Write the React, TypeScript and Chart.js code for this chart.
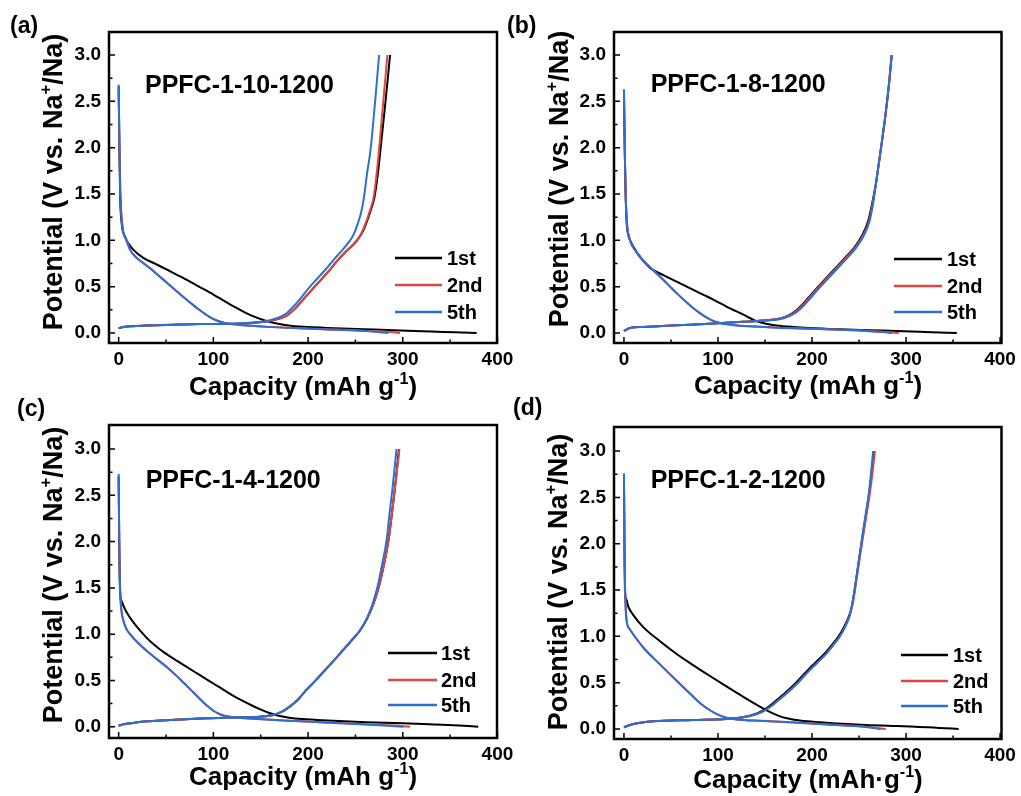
import React, { useEffect, useRef } from "react";
import { Chart, registerables } from "chart.js";

Chart.register(...registerables);

// ---------- tick labels / categories ----------
const xTicks = [0, 100, 200, 300, 400];
const yTicks = [0, 0.5, 1.0, 1.5, 2.0, 2.5, 3.0];
const cycleLabels = ["1st", "2nd", "5th"];
const cycleColors = ["#000000", "#e04545", "#2b6fd3"];

// ---------- (a) PPFC-1-10-1200 : [capacity, potential] ----------
const a1stDischarge = [[0,2.66],[0.8,2.0],[1.5,1.5],[3,1.2],[6.7,1.04],[10,0.97],[15.4,0.9],[26,0.81],[38,0.75],[50.7,0.685],[68,0.595],[85.8,0.495],[100,0.415],[121,0.29],[138.6,0.195],[156,0.13],[174,0.09],[191,0.07],[220,0.055],[244,0.045],[270,0.037],[297,0.028],[330,0.016],[355,0.008],[378,0]];
const a2ndDischarge = [[0,2.64],[0.8,2.0],[1.8,1.5],[4,1.15],[8.4,1.0],[12,0.9],[17,0.83],[24,0.77],[33,0.7],[42,0.62],[50.7,0.545],[60,0.46],[68,0.39],[77,0.315],[85.8,0.245],[95,0.18],[103.5,0.135],[112,0.108],[121,0.095],[140,0.078],[156,0.068],[190,0.052],[220,0.04],[244,0.032],[270,0.02],[290,0.008],[297,0]];
const a5thDischarge = [[0,2.68],[0.8,2.0],[1.8,1.5],[4,1.15],[8.4,1.0],[12,0.9],[17,0.83],[24,0.77],[33,0.7],[42,0.62],[50.7,0.545],[60,0.46],[68,0.39],[77,0.315],[85.8,0.245],[95,0.18],[103.5,0.135],[112,0.108],[121,0.094],[140,0.077],[156,0.066],[190,0.05],[220,0.038],[244,0.03],[265,0.018],[285,0]];
const a1stCharge = [[0,0.05],[4,0.063],[15,0.074],[30,0.08],[50.7,0.087],[85.8,0.096],[121,0.1],[140,0.108],[156,0.125],[168,0.15],[178,0.19],[186,0.26],[193,0.34],[200,0.42],[207,0.5],[215,0.59],[222,0.67],[230,0.77],[240,0.88],[251,0.99],[257,1.08],[262,1.2],[266,1.32],[270,1.46],[273.5,1.7],[276.5,1.98],[282,2.52],[286.6,3.0]];
const a2ndCharge = [[0,0.05],[4,0.063],[15,0.074],[30,0.08],[50.7,0.087],[85.8,0.096],[121,0.1],[140,0.108],[156,0.125],[168,0.15],[178,0.19],[186,0.26],[193,0.34],[200,0.42],[207,0.5],[215,0.59],[222,0.67],[230,0.77],[240,0.88],[250,0.98],[256,1.07],[261,1.19],[265,1.31],[269,1.45],[272,1.68],[275,1.98],[279.6,2.52],[283.8,3.0]];
const a5thCharge = [[0,0.05],[4,0.065],[15,0.075],[30,0.082],[50.7,0.088],[85.8,0.097],[121,0.1],[138.6,0.11],[156,0.13],[166.8,0.16],[177,0.21],[184,0.28],[191,0.36],[202,0.5],[209,0.58],[218,0.68],[227,0.79],[235,0.88],[243,0.98],[248,1.06],[252.5,1.18],[256,1.3],[259,1.46],[262,1.7],[266,1.98],[271,2.52],[275,3.0]];

// ---------- (b) PPFC-1-8-1200 ----------
const b1stDischarge = [[0,2.6],[0.8,2.0],[1.5,1.6],[2.8,1.2],[5,1.05],[10,0.93],[20.5,0.78],[28,0.7],[43,0.62],[56,0.555],[70,0.485],[84,0.415],[97,0.35],[109,0.285],[126.5,0.2],[140.6,0.13],[150,0.102],[162,0.082],[180,0.065],[197,0.054],[230,0.04],[261,0.03],[290,0.022],[320,0.012],[354,0]];
const b2ndDischarge = [[0,2.6],[0.8,2.0],[1.8,1.5],[3.5,1.15],[6.4,1.0],[13.4,0.87],[20,0.785],[27.6,0.71],[35,0.64],[41.7,0.575],[50,0.49],[56,0.43],[65,0.345],[73.5,0.27],[80,0.22],[87.6,0.168],[95,0.13],[102,0.108],[110,0.093],[119,0.083],[140,0.07],[162,0.058],[200,0.046],[230,0.035],[261,0.022],[280,0.01],[292.5,0]];
const b5thDischarge = [[0,2.63],[0.8,2.0],[1.8,1.5],[3.5,1.15],[6.4,1.0],[13.4,0.87],[20,0.785],[27.6,0.71],[35,0.64],[41.7,0.575],[50,0.49],[56,0.43],[65,0.345],[73.5,0.27],[80,0.22],[87.6,0.168],[95,0.13],[102,0.108],[110,0.093],[119,0.082],[140,0.069],[162,0.057],[200,0.045],[230,0.034],[261,0.02],[275,0.01],[285,0]];
const b1stCharge = [[0,0.02],[3,0.04],[6.4,0.054],[20.5,0.065],[56,0.083],[91,0.1],[126.5,0.12],[151,0.137],[169,0.165],[178.5,0.21],[185,0.26],[189,0.3],[196,0.38],[203,0.46],[213,0.57],[224,0.69],[235,0.81],[245.6,0.93],[253,1.05],[259.5,1.2],[264,1.4],[267.8,1.61],[273,1.97],[277.8,2.33],[282,2.7],[284.8,3.0]];
const b2ndCharge = [[0,0.02],[3,0.04],[6.4,0.054],[20.5,0.065],[56,0.083],[91,0.1],[126.5,0.12],[151,0.137],[169,0.165],[179.5,0.21],[186,0.26],[190,0.3],[197,0.38],[204,0.46],[214,0.57],[225,0.69],[236,0.81],[246.6,0.93],[254,1.05],[260.5,1.2],[264.5,1.4],[268,1.61],[273,1.97],[277.8,2.33],[282,2.7],[284.8,3.0]];
const b5thCharge = [[0,0.02],[3,0.04],[6.4,0.054],[20.5,0.065],[56,0.083],[91,0.1],[126.5,0.12],[151,0.135],[170,0.16],[181,0.21],[187.5,0.26],[191.5,0.3],[198.5,0.38],[205.5,0.46],[215.5,0.57],[226.5,0.69],[237.5,0.81],[247.6,0.93],[255,1.05],[261,1.2],[265,1.4],[268,1.61],[273,1.97],[277.8,2.33],[282,2.7],[284.5,3.0]];

// ---------- (c) PPFC-1-4-1200 ----------
const c1stDischarge = [[0,2.7],[0.6,2.0],[1.4,1.48],[3,1.36],[6.7,1.27],[10,1.21],[15.4,1.13],[20,1.07],[26,1.0],[33,0.925],[43.7,0.835],[55,0.755],[68,0.67],[85,0.562],[100,0.467],[115,0.372],[128,0.295],[138.6,0.24],[149,0.19],[160,0.145],[170,0.115],[180,0.097],[195,0.082],[209,0.073],[244,0.055],[262,0.048],[300,0.038],[332,0.025],[360,0.012],[379.7,0]];
const c2ndDischarge = [[0,2.7],[0.6,2.0],[1.5,1.5],[3,1.25],[4.9,1.15],[8,1.06],[12,1.0],[20,0.91],[33,0.79],[50.7,0.645],[60,0.56],[68,0.48],[77,0.39],[85.8,0.3],[93,0.23],[100,0.172],[107,0.135],[114,0.112],[125,0.098],[138.6,0.09],[174,0.068],[209,0.052],[244,0.035],[275,0.02],[300,0.006],[307.6,0]];
const c5thDischarge = [[0,2.73],[0.6,2.0],[1.5,1.5],[3,1.25],[4.9,1.15],[8,1.06],[12,1.0],[20,0.91],[33,0.79],[50.7,0.645],[60,0.56],[68,0.48],[77,0.39],[85.8,0.3],[93,0.23],[100,0.172],[107,0.135],[114,0.112],[125,0.097],[138.6,0.088],[174,0.066],[209,0.05],[244,0.033],[275,0.016],[300.5,0]];
const c1stCharge = [[0,0.01],[5,0.025],[15,0.04],[30,0.058],[50.7,0.07],[85.8,0.088],[121,0.1],[149,0.108],[163,0.126],[172,0.16],[181,0.22],[190,0.3],[198.5,0.4],[207,0.49],[216,0.59],[225,0.69],[233.7,0.79],[244,0.91],[254.8,1.04],[262.5,1.17],[269.5,1.34],[275,1.52],[280.5,1.77],[285,2.02],[288.5,2.3],[291.5,2.56],[296,3.0]];
const c2ndCharge = [[0,0.01],[5,0.025],[15,0.04],[30,0.058],[50.7,0.07],[85.8,0.088],[121,0.1],[149,0.108],[163,0.126],[172,0.16],[181,0.22],[190,0.3],[198.5,0.4],[207,0.49],[216,0.59],[225,0.69],[233.7,0.79],[244,0.91],[254.8,1.04],[262.5,1.17],[269.5,1.34],[275,1.52],[280.5,1.77],[285,2.02],[288.5,2.3],[291.5,2.56],[296.5,3.0]];
const c5thCharge = [[0,0.01],[5,0.025],[15,0.04],[30,0.058],[50.7,0.07],[85.8,0.088],[121,0.1],[149,0.108],[163,0.126],[172,0.16],[181,0.22],[190,0.3],[198.5,0.4],[207,0.49],[216,0.59],[225,0.69],[233.7,0.79],[244,0.91],[254.8,1.04],[262,1.17],[268.5,1.34],[273.5,1.52],[278.5,1.77],[283,2.02],[286,2.3],[289,2.56],[293.4,3.0]];

// ---------- (d) PPFC-1-2-1200 ----------
const d1stDischarge = [[0,2.7],[0.5,2.0],[1,1.5],[2.5,1.4],[4.6,1.32],[10,1.23],[20.5,1.1],[38,0.95],[56,0.81],[73.5,0.69],[91,0.575],[109,0.46],[126.5,0.35],[144,0.245],[155,0.185],[164,0.145],[172,0.118],[181,0.1],[195,0.083],[215,0.067],[257,0.042],[290,0.031],[310,0.025],[335,0.012],[356,0]];
const d2ndDischarge = [[0,2.72],[0.5,2.0],[1.2,1.5],[2.8,1.17],[6,1.08],[10,1.02],[20.5,0.88],[38,0.7],[56,0.52],[73.5,0.35],[82,0.27],[91,0.205],[100,0.155],[109,0.122],[118,0.105],[130,0.095],[144,0.09],[179.5,0.072],[215,0.05],[257,0.025],[278.4,0]];
const d5thDischarge = [[0,2.76],[0.5,2.0],[1.2,1.5],[2.8,1.17],[6,1.08],[10,1.02],[20.5,0.88],[38,0.7],[56,0.52],[73.5,0.35],[82,0.27],[91,0.205],[100,0.155],[109,0.122],[118,0.105],[130,0.095],[144,0.089],[179.5,0.07],[215,0.048],[257,0.022],[273,0]];
const d1stCharge = [[0,0.018],[4,0.035],[10,0.054],[31,0.083],[73.5,0.097],[109,0.108],[126.5,0.126],[139,0.16],[146,0.19],[153,0.235],[161,0.3],[170.4,0.38],[183,0.5],[195,0.63],[204,0.72],[213,0.81],[220.5,0.9],[227.5,0.99],[234,1.1],[239,1.21],[242,1.31],[244.5,1.45],[247,1.62],[250.5,1.86],[256,2.22],[261.3,2.58],[266,3.0]];
const d2ndCharge = [[0,0.018],[4,0.035],[10,0.054],[31,0.083],[73.5,0.097],[109,0.108],[126.5,0.126],[140.6,0.16],[148,0.19],[155,0.235],[163,0.3],[172.4,0.38],[185,0.5],[197,0.63],[206,0.72],[215,0.81],[222,0.9],[229,0.99],[235,1.1],[239.6,1.21],[242.5,1.31],[245,1.45],[247.5,1.62],[251,1.86],[256.5,2.22],[262,2.58],[267,3.0]];
const d5thCharge = [[0,0.018],[4,0.035],[10,0.054],[31,0.083],[73.5,0.097],[109,0.108],[126.5,0.126],[140.6,0.16],[148,0.19],[155,0.235],[163,0.3],[172.4,0.38],[185,0.5],[197,0.63],[206,0.72],[215,0.81],[222,0.9],[229,0.99],[235,1.1],[239.6,1.21],[242,1.31],[244.5,1.45],[247,1.62],[250,1.84],[255.5,2.22],[260.8,2.58],[265,3.0]];

// ---------- panel layout (positions, not data) ----------
const FONT = "'Liberation Sans', Arial, Helvetica, sans-serif";
const W = 1021;
const H = 796;

type Seg = { t: string; sup?: boolean };
const xTitleA: Seg[] = [{ t: "Capacity (mAh g" }, { t: "-1", sup: true }, { t: ")" }];
const xTitleD: Seg[] = [{ t: "Capacity (mAh\u00B7g" }, { t: "-1", sup: true }, { t: ")" }];
const yTitle: Seg[] = [{ t: "Potential (V vs. Na" }, { t: "+", sup: true }, { t: "/Na)" }];

const panels = [
  {
    tag: "(a)", sample: "PPFC-1-10-1200",
    frame: { l: 109, t: 32, r: 497, b: 343 },
    xRange: [-10.2, 399.5], yRange: [-0.108, 3.248],
    tagPos: [10, 33], samplePos: [145, 92.5],
    xTitle: xTitleA, xTitlePos: [303, 395], yTitlePos: [62, 182],
    legend: { x1: 395, x2: 442, tx: 447, ys: [258, 285, 312] },
    series: [[a1stDischarge, a1stCharge], [a2ndDischarge, a2ndCharge], [a5thDischarge, a5thCharge]],
  },
  {
    tag: "(b)", sample: "PPFC-1-8-1200",
    frame: { l: 614, t: 32, r: 1003, b: 343 },
    xRange: [-10.6, 401.5], yRange: [-0.108, 3.248],
    tagPos: [507, 33], samplePos: [650.7, 91.7],
    xTitle: xTitleA, xTitlePos: [808, 394], yTitlePos: [568, 179],
    legend: { x1: 894, x2: 942, tx: 947, ys: [259, 286, 312] },
    series: [[b1stDischarge, b1stCharge], [b2ndDischarge, b2ndCharge], [b5thDischarge, b5thCharge]],
  },
  {
    tag: "(c)", sample: "PPFC-1-4-1200",
    frame: { l: 109, t: 425, r: 497, b: 738 },
    xRange: [-10.2, 399.5], yRange: [-0.122, 3.26],
    tagPos: [17, 416], samplePos: [145.7, 487.7],
    xTitle: xTitleA, xTitlePos: [303, 785], yTitlePos: [62, 575],
    legend: { x1: 388, x2: 437, tx: 441, ys: [653, 680, 705] },
    series: [[c1stDischarge, c1stCharge], [c2ndDischarge, c2ndCharge], [c5thDischarge, c5thCharge]],
  },
  {
    tag: "(d)", sample: "PPFC-1-2-1200",
    frame: { l: 614, t: 427, r: 1003, b: 739 },
    xRange: [-10.6, 401.5], yRange: [-0.108, 3.26],
    tagPos: [513, 415], samplePos: [650.7, 487.7],
    xTitle: xTitleD, xTitlePos: [808, 788], yTitlePos: [567, 582],
    legend: { x1: 901, x2: 948, tx: 953, ys: [655, 681, 706] },
    series: [[d1stDischarge, d1stCharge], [d2ndDischarge, d2ndCharge], [d5thDischarge, d5thCharge]],
  },
];

const Y_AXIS_W = 80;
const X_AXIS_H = 40;

function richWidth(ctx: CanvasRenderingContext2D, segs: Seg[], size: number) {
  let w = 0;
  for (const s of segs) {
    ctx.font = `bold ${s.sup ? size * 0.62 : size}px ${FONT}`;
    w += ctx.measureText(s.t).width;
  }
  return w;
}

function drawRich(ctx: CanvasRenderingContext2D, segs: Seg[], cx: number, baseY: number, size: number) {
  const total = richWidth(ctx, segs, size);
  let x = cx - total / 2;
  ctx.textAlign = "left";
  ctx.textBaseline = "alphabetic";
  for (const s of segs) {
    const fs = s.sup ? size * 0.62 : size;
    ctx.font = `bold ${fs}px ${FONT}`;
    ctx.fillText(s.t, x, s.sup ? baseY - size * 0.42 : baseY);
    x += ctx.measureText(s.t).width;
  }
}

function makeDecor(p: any) {
  return {
    id: "decor",
    afterDraw(chart: any) {
      const ctx: CanvasRenderingContext2D = chart.ctx;
      const { left, top, right, bottom } = chart.chartArea;
      const xs = chart.scales.x;
      const ys = chart.scales.y;
      ctx.save();
      ctx.fillStyle = "#000";
      ctx.strokeStyle = "#000";
      // frame
      ctx.lineWidth = 2.5;
      ctx.strokeRect(left, top, right - left, bottom - top);
      // inward ticks
      ctx.lineWidth = 1.5;
      ctx.beginPath();
      xTicks.forEach((v, i) => {
        const px = xs.getPixelForValue(v);
        ctx.moveTo(px, bottom); ctx.lineTo(px, bottom - 6);
        if (i < xTicks.length - 1) {
          const mx = xs.getPixelForValue((v + xTicks[i + 1]) / 2);
          ctx.moveTo(mx, bottom); ctx.lineTo(mx, bottom - 3.5);
        }
      });
      yTicks.forEach((v, i) => {
        const py = ys.getPixelForValue(v);
        ctx.moveTo(left, py); ctx.lineTo(left + 6, py);
        if (i < yTicks.length - 1) {
          const my = ys.getPixelForValue((v + yTicks[i + 1]) / 2);
          ctx.moveTo(left, my); ctx.lineTo(left + 3.5, my);
        }
      });
      ctx.stroke();
      // panel tag
      ctx.textAlign = "left";
      ctx.textBaseline = "alphabetic";
      ctx.font = `bold 23px ${FONT}`;
      ctx.fillText(p.tag, p.tagPos[0], p.tagPos[1]);
      // sample name
      ctx.font = `bold 25px ${FONT}`;
      ctx.fillText(p.sample, p.samplePos[0], p.samplePos[1]);
      // x title
      drawRich(ctx, p.xTitle, p.xTitlePos[0], p.xTitlePos[1], 26);
      // y title (rotated)
      ctx.save();
      ctx.translate(p.yTitlePos[0], p.yTitlePos[1]);
      ctx.rotate(-Math.PI / 2);
      drawRich(ctx, yTitle, 0, 0, 27);
      ctx.restore();
      // legend
      cycleLabels.forEach((lab, i) => {
        const y = p.legend.ys[i];
        ctx.strokeStyle = cycleColors[i];
        ctx.lineWidth = 2.5;
        ctx.beginPath();
        ctx.moveTo(p.legend.x1, y);
        ctx.lineTo(p.legend.x2, y);
        ctx.stroke();
        ctx.fillStyle = "#000";
        ctx.font = `bold 20px ${FONT}`;
        ctx.textAlign = "left";
        ctx.textBaseline = "middle";
        ctx.fillText(lab, p.legend.tx, y + 1);
      });
      ctx.restore();
    },
  };
}

function Panel({ p }: { p: any }) {
  const ref = useRef<HTMLCanvasElement | null>(null);
  useEffect(() => {
    if (!ref.current) return;
    const datasets: any[] = [];
    // draw order: blue (5th) on top, then red, black at the bottom
    [2, 1, 0].forEach((ci) => {
      p.series[ci].forEach((curve: number[][], k: number) => {
        datasets.push({
          label: cycleLabels[ci] + (k === 0 ? " discharge" : " charge"),
          data: curve.map(([x, y]) => ({ x, y })),
          borderColor: cycleColors[ci],
          backgroundColor: cycleColors[ci],
          borderWidth: 2,
          pointRadius: 0,
          fill: false,
          cubicInterpolationMode: "monotone",
        });
      });
    });
    const tickFont = { family: FONT, size: 19, weight: "bold" as const };
    const chart = new Chart(ref.current, {
      type: "line",
      data: { datasets },
      options: {
        animation: false,
        responsive: false,
        devicePixelRatio: 1,
        layout: {
          padding: {
            left: p.frame.l - Y_AXIS_W,
            top: p.frame.t,
            right: W - p.frame.r,
            bottom: H - p.frame.b - X_AXIS_H,
          },
        },
        plugins: { legend: { display: false }, tooltip: { enabled: false } },
        scales: {
          x: {
            type: "linear",
            position: "bottom",
            min: p.xRange[0],
            max: p.xRange[1],
            grid: { display: false, drawTicks: false },
            border: { display: false },
            afterBuildTicks: (s: any) => { s.ticks = xTicks.map((v) => ({ value: v })); },
            afterFit: (s: any) => { s.height = X_AXIS_H; },
            ticks: { font: tickFont, color: "#000", padding: 5, maxRotation: 0, autoSkip: false, callback: (v: any) => String(v) },
          },
          y: {
            type: "linear",
            min: p.yRange[0],
            max: p.yRange[1],
            grid: { display: false, drawTicks: false },
            border: { display: false },
            afterBuildTicks: (s: any) => { s.ticks = yTicks.map((v) => ({ value: v })); },
            afterFit: (s: any) => { s.width = Y_AXIS_W; },
            ticks: { font: tickFont, color: "#000", padding: 8, autoSkip: false, callback: (v: any) => Number(v).toFixed(1) },
          },
        },
      },
      plugins: [makeDecor(p)],
    } as any);
    return () => chart.destroy();
  }, [p]);
  return (
    <canvas
      ref={ref}
      width={W}
      height={H}
      style={{ position: "absolute", left: 0, top: 0, width: W, height: H }}
    />
  );
}

export default function App() {
  return (
    <div style={{ position: "fixed", left: 0, top: 0, width: W, height: H, background: "#fff", overflow: "hidden" }}>
      {panels.map((p) => (
        <Panel key={p.tag} p={p} />
      ))}
    </div>
  );
}
